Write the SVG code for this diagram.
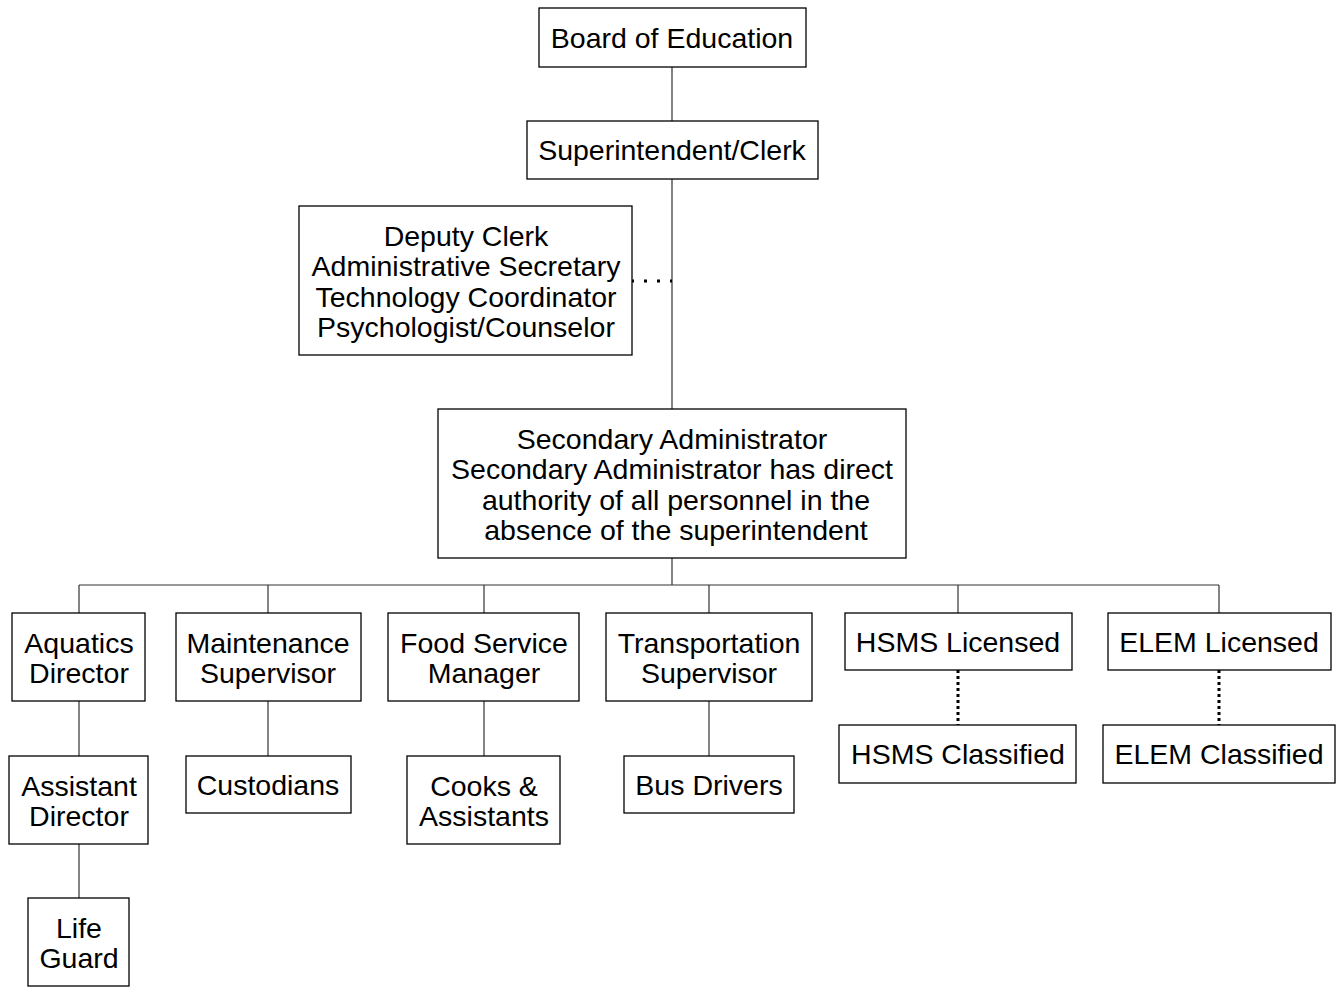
<svg xmlns="http://www.w3.org/2000/svg" width="1343" height="988" viewBox="0 0 1343 988">
<style>
.box{fill:#fff;stroke:#000;stroke-width:1.3}
.t{font-family:"Liberation Sans",Arial,sans-serif;font-size:28.5px;fill:#000;text-anchor:middle}
.ln{stroke:#333;stroke-width:1.2;fill:none}
.dot1{stroke:#000;stroke-width:3;fill:none;stroke-dasharray:3 10}
.dot2{stroke:#000;stroke-width:3;fill:none;stroke-dasharray:3 3}
</style>
<rect width="1343" height="988" fill="#fff"/>
<g id="connectors">
<path class="ln" d="M672 67V121M672 179V409M672 558V585M79 585H1219M79 585V613M268 585V613M484 585V613M709 585V613M958 585V613M1219 585V613M79 701V756M79 844V898M268 701V756M484 701V756M709 701V756"/>
<path class="dot1" d="M631 281H672"/>
<path class="dot2" d="M958 670V725M1219 670V725"/>
</g>
<g id="board"><rect class="box" x="539" y="8" width="267" height="59"/><text class="t" x="672" y="48">Board of Education</text></g>
<g id="superintendent"><rect class="box" x="527" y="121" width="291" height="58"/><text class="t" x="672" y="160">Superintendent/Clerk</text></g>
<g id="deputy"><rect class="box" x="299" y="206" width="333" height="149"/><text class="t" x="466" y="246">Deputy Clerk</text><text class="t" x="466" y="276">Administrative Secretary</text><text class="t" x="466" y="307">Technology Coordinator</text><text class="t" x="466" y="337">Psychologist/Counselor</text></g>
<g id="secondary"><rect class="box" x="438" y="409" width="468" height="149"/><text class="t" x="672" y="449">Secondary Administrator</text><text class="t" x="672" y="479">Secondary Administrator has direct</text><text class="t" x="676" y="510">authority of all personnel in the</text><text class="t" x="676" y="540">absence of the superintendent</text></g>
<g id="aquatics"><rect class="box" x="12" y="613" width="133" height="88"/><text class="t" x="79" y="653">Aquatics</text><text class="t" x="79" y="683">Director</text></g>
<g id="maintenance"><rect class="box" x="176" y="613" width="185" height="88"/><text class="t" x="268" y="653">Maintenance</text><text class="t" x="268" y="683">Supervisor</text></g>
<g id="food"><rect class="box" x="388" y="613" width="191" height="88"/><text class="t" x="484" y="653">Food Service</text><text class="t" x="484" y="683">Manager</text></g>
<g id="transportation"><rect class="box" x="606" y="613" width="206" height="88"/><text class="t" x="709" y="653">Transportation</text><text class="t" x="709" y="683">Supervisor</text></g>
<g id="hsms-licensed"><rect class="box" x="845" y="613" width="227" height="57"/><text class="t" x="958" y="652">HSMS Licensed</text></g>
<g id="elem-licensed"><rect class="box" x="1108" y="613" width="223" height="57"/><text class="t" x="1219" y="652">ELEM Licensed</text></g>
<g id="assistant"><rect class="box" x="9" y="756" width="139" height="88"/><text class="t" x="79" y="796">Assistant</text><text class="t" x="79" y="826">Director</text></g>
<g id="custodians"><rect class="box" x="186" y="756" width="165" height="57"/><text class="t" x="268" y="795">Custodians</text></g>
<g id="cooks"><rect class="box" x="407" y="756" width="153" height="88"/><text class="t" x="484" y="796">Cooks &amp;</text><text class="t" x="484" y="826">Assistants</text></g>
<g id="bus"><rect class="box" x="624" y="756" width="170" height="57"/><text class="t" x="709" y="795">Bus Drivers</text></g>
<g id="hsms-classified"><rect class="box" x="839" y="725" width="237" height="58"/><text class="t" x="958" y="764">HSMS Classified</text></g>
<g id="elem-classified"><rect class="box" x="1103" y="725" width="232" height="58"/><text class="t" x="1219" y="764">ELEM Classified</text></g>
<g id="lifeguard"><rect class="box" x="28" y="898" width="101" height="88"/><text class="t" x="79" y="938">Life</text><text class="t" x="79" y="968">Guard</text></g>
</svg>
